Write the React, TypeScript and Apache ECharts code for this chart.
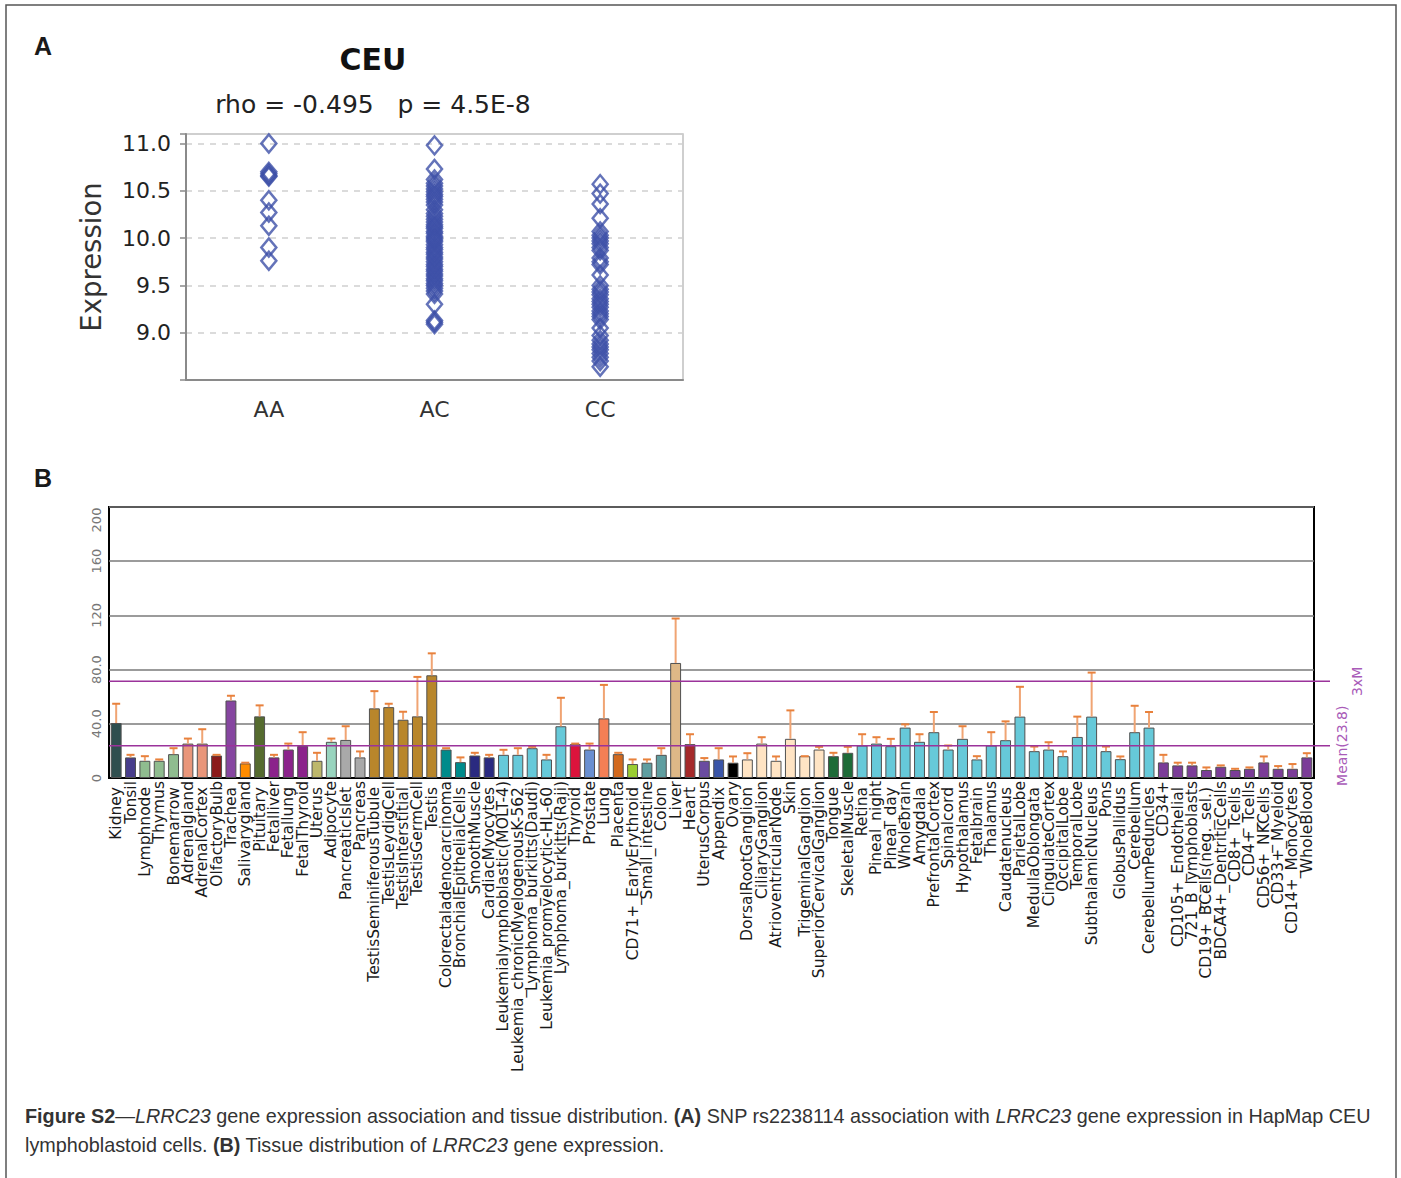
import React, { useEffect, useRef } from 'react';
import * as echarts from 'echarts';

// ---------- Panel A data ----------
const genotypes = ['AA', 'AC', 'CC'];
const aaValues = [11.0, 10.7, 10.68, 10.66, 10.65, 10.4, 10.27, 10.13, 9.9, 9.76];
const acValues = [
  10.98, 10.73, 10.62, 10.58, 10.55, 10.52, 10.49, 10.46, 10.44, 10.41, 10.38, 10.35, 10.3,
  10.26, 10.23, 10.2, 10.17, 10.14, 10.12, 10.1, 10.07, 10.05, 10.02, 10.0, 9.98, 9.96, 9.93,
  9.9, 9.88, 9.85, 9.83, 9.8, 9.78, 9.75, 9.72, 9.7, 9.67, 9.65, 9.62, 9.6, 9.57, 9.55, 9.52,
  9.5, 9.47, 9.44, 9.41, 9.3, 9.13, 9.11, 9.09,
];
const ccValues = [
  10.57, 10.47, 10.36, 10.21, 10.07, 10.03, 10.0, 9.97, 9.94, 9.9, 9.87, 9.79, 9.75, 9.72, 9.61,
  9.5, 9.46, 9.43, 9.4, 9.36, 9.33, 9.3, 9.27, 9.23, 9.2, 9.17, 9.14, 9.05, 8.97, 8.92, 8.88,
  8.85, 8.82, 8.78, 8.74, 8.7, 8.64,
];
const panelATitle = 'CEU';
const panelASubtitle = 'rho = -0.495   p = 4.5E-8';

// ---------- Panel B data ----------
const tissues = [
  'Kidney', 'Tonsil', 'Lymphnode', 'Thymus', 'Bonemarrow', 'Adrenalgland', 'AdrenalCortex',
  'OlfactoryBulb', 'Trachea', 'Salivarygland', 'Pituitary', 'Fetalliver', 'Fetallung',
  'FetalThyroid', 'Uterus', 'Adipocyte', 'PancreaticIslet', 'Pancreas',
  'TestisSeminiferousTubule', 'TestisLeydigCell', 'TestisInterstitial', 'TestisGermCell',
  'Testis', 'Colorectaladenocarcinoma', 'BronchialEpithelialCells', 'SmoothMuscle',
  'CardiacMyocytes', 'Leukemialymphoblastic(MOLT-4)', 'Leukemia_chronicMyelogenousK-562',
  'Lymphoma_burkitts(Daudi)', 'Leukemia_promyelocytic-HL-60', 'Lymphoma_burkitts(Raji)',
  'Thyroid', 'Prostate', 'Lung', 'Placenta', 'CD71+_EarlyErythroid', 'Small_intestine',
  'Colon', 'Liver', 'Heart', 'UterusCorpus', 'Appendix', 'Ovary', 'DorsalRootGanglion',
  'CiliaryGanglion', 'AtrioventricularNode', 'Skin', 'TrigeminalGanglion',
  'SuperiorCervicalGanglion', 'Tongue', 'SkeletalMuscle', 'Retina', 'Pineal_night',
  'Pineal_day', 'Wholebrain', 'Amygdala', 'PrefrontalCortex', 'Spinalcord', 'Hypothalamus',
  'Fetalbrain', 'Thalamus', 'Caudatenucleus', 'ParietalLobe', 'MedullaOblongata',
  'CingulateCortex', 'OccipitalLobe', 'TemporalLobe', 'SubthalamicNucleus', 'Pons',
  'GlobusPallidus', 'Cerebellum', 'CerebellumPeduncles', 'CD34+', 'CD105+_Endothelial',
  '721_B_lymphoblasts', 'CD19+_BCells(neg._sel.)', 'BDCA4+_DentriticCells', 'CD8+_Tcells',
  'CD4+_Tcells', 'CD56+_NKCells', 'CD33+_Myeloid', 'CD14+_Monocytes', 'WholeBlood',
];
const expression = [
  40.6, 15.2, 12.7, 12.7, 17.6, 25.4, 25.4, 16.6, 57.2, 10.8, 45.5, 15.2, 21.0, 23.7, 12.7,
  26.7, 28.1, 15.2, 51.4, 52.3, 43.0, 45.5, 75.8, 21.0, 11.7, 16.6, 15.2, 17.1, 17.1, 22.0,
  13.7, 38.2, 25.0, 21.0, 44.0, 17.6, 10.3, 11.3, 17.1, 84.9, 25.0, 12.7, 13.7, 11.3, 13.7,
  25.4, 12.7, 28.9, 16.1, 21.0, 16.1, 18.6, 24.0, 25.4, 23.5, 37.2, 26.7, 33.8, 21.0, 28.9,
  13.7, 24.0, 27.9, 45.3, 19.8, 21.0, 16.1, 30.3, 45.3, 19.8, 13.9, 33.8, 37.2, 11.5, 9.3,
  9.3, 5.9, 8.3, 5.9, 6.8, 11.5, 6.8, 6.8, 15.2,
];
const errorTop = [
  54.8, 17.1, 16.1, 13.7, 22.0, 29.1, 36.0, 17.1, 60.7, 11.3, 53.6, 17.1, 25.4, 33.8, 18.6,
  29.1, 38.2, 19.6, 64.1, 54.8, 48.9, 74.6, 92.0, 22.0, 15.2, 18.6, 17.1, 20.8, 22.0, 23.0,
  17.1, 59.2, 25.4, 25.4, 68.7, 18.6, 13.7, 13.7, 22.0, 117.7, 32.3, 14.7, 22.0, 15.9, 18.3,
  30.1, 15.9, 49.9, 16.1, 23.0, 18.6, 23.0, 32.3, 30.1, 28.9, 39.6, 32.3, 48.7, 24.0, 38.2,
  16.1, 33.8, 41.8, 67.3, 23.2, 26.4, 19.6, 45.3, 77.8, 23.2, 15.9, 53.3, 48.7, 17.1, 11.3,
  11.3, 7.8, 9.3, 6.8, 7.8, 15.9, 8.8, 10.3, 18.3,
];
const meanValue = 23.8;
const threeTimesMean = 71.4;
const meanLabel = 'Mean(23.8)';
const threeXLabel = '3xM';

// bar colours (style only)
const tissueColors = [
  '#2F4F4F', '#483D8B', '#8FBC8F', '#8FBC8F', '#8FBC8F', '#E9967A', '#E9967A', '#8B1A1A',
  '#8646A0', '#FF8C00', '#556B2F', '#8B228B', '#8B228B', '#8B228B', '#BDB76B', '#98D4BE',
  '#A9A9A9', '#A9A9A9', '#B8862B', '#B8862B', '#B8862B', '#B8862B', '#B8862B', '#008B8B',
  '#008B8B', '#2A2A80', '#2A2A80', '#66C9D9', '#66C9D9', '#66C9D9', '#66C9D9', '#66C9D9',
  '#DC143C', '#6A8FD0', '#F47F55', '#D2691E', '#9ACD32', '#5F9EA0', '#5F9EA0', '#DEB887',
  '#A52A2A', '#6A4BA0', '#3A55A8', '#000000', '#FFE4C4', '#FFE4C4', '#FFE4C4', '#FFE4C4',
  '#FFE4C4', '#FFE4C4', '#1E6B38', '#1E6B38', '#66C9D9', '#66C9D9', '#66C9D9', '#66C9D9',
  '#66C9D9', '#66C9D9', '#66C9D9', '#66C9D9', '#66C9D9', '#66C9D9', '#66C9D9', '#66C9D9',
  '#66C9D9', '#66C9D9', '#66C9D9', '#66C9D9', '#66C9D9', '#66C9D9', '#66C9D9', '#66C9D9',
  '#66C9D9', '#7B3C98', '#7B3C98', '#7B3C98', '#7B3C98', '#7B3C98', '#7B3C98', '#7B3C98',
  '#7B3C98', '#7B3C98', '#7B3C98', '#7B3C98',
];

const FONT_A = "'DejaVu Sans', sans-serif";
const FONT_B = "'DejaVu Sans', sans-serif";
const FONT_CAP = "'Liberation Sans Narrow', 'Arial Narrow', 'Liberation Sans', sans-serif";
const LABEL_B_SIZE = 15.5;

export default function App() {
  const ref = useRef<HTMLDivElement>(null);

  useEffect(() => {
    document.body.style.margin = '0';
    const chart = echarts.init(ref.current!, null, { renderer: 'svg' });

    const scatterData = [
      ...aaValues.map((v) => [genotypes[0], v]),
      ...acValues.map((v) => [genotypes[1], v]),
      ...ccValues.map((v) => [genotypes[2], v]),
    ];

    const option: any = {
      animation: false,
      backgroundColor: '#ffffff',
      grid: [
        { left: 186, top: 134, width: 497, height: 246, show: true, borderColor: '#c0c0c0', borderWidth: 1.5 },
        { left: 109, top: 507, width: 1205, height: 271, show: true, borderColor: '#000', borderWidth: 2 },
      ],
      xAxis: [
        {
          type: 'category',
          gridIndex: 0,
          data: genotypes,
          axisLine: { lineStyle: { color: '#8a8a8a', width: 2 } },
          axisTick: { alignWithLabel: true, length: 6, lineStyle: { color: '#8a8a8a', width: 1.5 } },
          axisLabel: { fontSize: 22, color: '#333', margin: 18, fontFamily: FONT_A },
          splitLine: { show: false },
        },
        {
          type: 'category',
          gridIndex: 1,
          data: tissues,
          axisLine: { lineStyle: { color: '#000', width: 2 } },
          axisTick: { alignWithLabel: true, length: 8, lineStyle: { color: '#444', width: 2 } },
          axisLabel: {
            interval: 0,
            rotate: 90,
            margin: 3,
            fontSize: LABEL_B_SIZE,
            fontFamily: FONT_B,
            color: '#1a1a1a',
            formatter: (v: string, i: number) => (i % 2 === 0 ? `{a|${v}}` : `{b|${v}}`),
            rich: {
              a: { fontSize: LABEL_B_SIZE, fontFamily: FONT_B, color: '#1a1a1a', padding: [0, 6, 0, 0] },
              b: { fontSize: LABEL_B_SIZE, fontFamily: FONT_B, color: '#1a1a1a' },
            },
          },
        },
      ],
      yAxis: [
        {
          type: 'value',
          gridIndex: 0,
          min: 8.5,
          max: 11.1,
          interval: 0.5,
          axisLine: { show: true, lineStyle: { color: '#8a8a8a', width: 2 } },
          axisTick: { show: true, length: 6, lineStyle: { color: '#8a8a8a', width: 1.5 } },
          axisLabel: {
            fontSize: 22,
            color: '#222',
            margin: 15,
            fontFamily: FONT_A,
            formatter: (v: number) => (v >= 8.9 && v <= 11.05 ? v.toFixed(1) : ''),
          },
          splitLine: { show: true, lineStyle: { color: '#cfcfcf', type: [6, 6], width: 1.5 } },
        },
        {
          type: 'value',
          gridIndex: 1,
          min: 0,
          max: 200,
          interval: 40,
          axisLine: { show: false },
          axisTick: { show: false },
          axisLabel: {
            rotate: 90,
            fontSize: 13,
            color: '#777',
            margin: 6,
            fontFamily: FONT_B,
            formatter: (v: number) => {
              if (v === 0) return '0';
              if (v === 200) return '{top|200}';
              return v < 100 ? v.toFixed(1) : String(v);
            },
            rich: { top: { fontSize: 13, color: '#777', fontFamily: FONT_B, padding: [0, 26, 0, 0] } },
          },
          splitLine: { show: true, lineStyle: { color: '#7a7a7a', width: 1.5 } },
        },
      ],
      series: [
        {
          type: 'scatter',
          xAxisIndex: 0,
          yAxisIndex: 0,
          data: scatterData,
          symbol: 'diamond',
          symbolSize: [15, 18],
          itemStyle: { color: 'rgba(255,255,255,0)', borderColor: '#3D50A8', borderWidth: 2.5 },
          z: 3,
        },
        {
          type: 'bar',
          xAxisIndex: 1,
          yAxisIndex: 1,
          barWidth: '76%',
          data: expression.map((v, i) => ({ value: v, itemStyle: { color: tissueColors[i] } })),
          itemStyle: { borderColor: '#505050', borderWidth: 1 },
          z: 2,
        },
        {
          type: 'custom',
          xAxisIndex: 1,
          yAxisIndex: 1,
          z: 3,
          data: tissues.map((t, i) => [i, expression[i], errorTop[i]]),
          renderItem: (params: any, api: any) => {
            const idx = api.value(0);
            const lo = api.coord([idx, api.value(1)]);
            const hi = api.coord([idx, api.value(2)]);
            const cap = 4;
            return {
              type: 'group',
              children: [
                {
                  type: 'line',
                  shape: { x1: lo[0], y1: lo[1], x2: hi[0], y2: hi[1] },
                  style: { stroke: '#F0A473', lineWidth: 2 },
                },
                {
                  type: 'line',
                  shape: { x1: hi[0] - cap, y1: hi[1], x2: hi[0] + cap, y2: hi[1] },
                  style: { stroke: '#E8813C', lineWidth: 2 },
                },
              ],
            };
          },
        },
      ],
    };
    chart.setOption(option);

    const yMean = chart.convertToPixel({ yAxisIndex: 1 }, meanValue) as number;
    const y3x = chart.convertToPixel({ yAxisIndex: 1 }, threeTimesMean) as number;
    const lineLeft = 109;
    const lineRight = 1330;

    const capRich = {
      n: { font: `19.8px ${FONT_CAP}`, fill: '#333' },
      b: { font: `bold 19.8px ${FONT_CAP}`, fill: '#333' },
      i: { font: `italic 19.8px ${FONT_CAP}`, fill: '#333' },
    };

    const graphic: any[] = [
      {
        type: 'rect',
        shape: { x: 6, y: 5, width: 1390, height: 1200 },
        style: { fill: 'none', stroke: '#555', lineWidth: 1.5 },
        silent: true,
      },
      { type: 'text', x: 43, y: 46, style: { text: 'A', font: "bold 25px 'Liberation Sans', Arial, sans-serif", fill: '#1a1a1a', textAlign: 'center', textVerticalAlign: 'middle' } },
      { type: 'text', x: 43, y: 478, style: { text: 'B', font: "bold 25px 'Liberation Sans', Arial, sans-serif", fill: '#1a1a1a', textAlign: 'center', textVerticalAlign: 'middle' } },
      { type: 'text', x: 373, y: 59, style: { text: panelATitle, font: `bold 30px ${FONT_A}`, fill: '#111', textAlign: 'center', textVerticalAlign: 'middle' } },
      { type: 'text', x: 373, y: 104, style: { text: panelASubtitle, font: `25px ${FONT_A}`, fill: '#222', textAlign: 'center', textVerticalAlign: 'middle' } },
      { type: 'text', x: 91, y: 257, rotation: Math.PI / 2, style: { text: 'Expression', font: `27.5px ${FONT_A}`, fill: '#333', textAlign: 'center', textVerticalAlign: 'middle' } },
      { type: 'line', shape: { x1: lineLeft, y1: yMean, x2: lineRight, y2: yMean }, style: { stroke: '#9B339B', lineWidth: 1.5 }, z: 10 },
      { type: 'line', shape: { x1: lineLeft, y1: y3x, x2: lineRight, y2: y3x }, style: { stroke: '#9B339B', lineWidth: 1.5 }, z: 10 },
      { type: 'text', x: 1342, y: yMean, rotation: Math.PI / 2, style: { text: meanLabel, font: `14px ${FONT_B}`, fill: '#A95BB8', textAlign: 'center', textVerticalAlign: 'middle' } },
      { type: 'text', x: 1357, y: y3x, rotation: Math.PI / 2, style: { text: threeXLabel, font: `14px ${FONT_B}`, fill: '#A95BB8', textAlign: 'center', textVerticalAlign: 'middle' } },
      {
        type: 'text',
        x: 25,
        y: 1116,
        style: {
          text:
            '{b|Figure S2}{n|—}{i|LRRC23}{n| gene expression association and tissue distribution. }{b|(A)}{n| SNP rs2238114 association with }{i|LRRC23}{n| gene expression in HapMap CEU}',
          textVerticalAlign: 'middle',
          rich: capRich,
        },
      },
      {
        type: 'text',
        x: 25,
        y: 1145,
        style: {
          text: '{n|lymphoblastoid cells. }{b|(B)}{n| Tissue distribution of }{i|LRRC23}{n| gene expression.}',
          textVerticalAlign: 'middle',
          rich: capRich,
        },
      },
    ];
    chart.setOption({ graphic });

    return () => chart.dispose();
  }, []);

  return <div ref={ref} style={{ width: 1401, height: 1178 }} />;
}
